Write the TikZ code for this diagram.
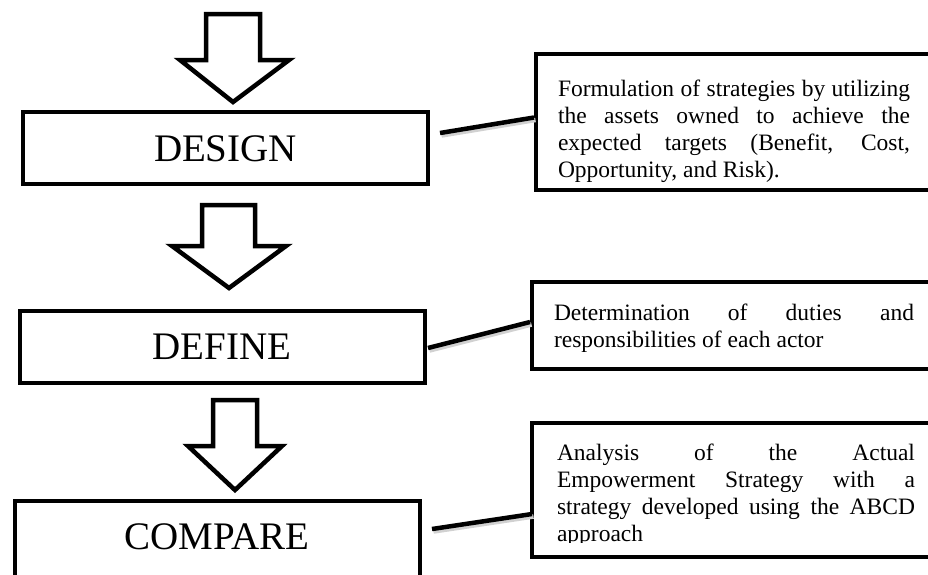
\documentclass[tikz,border=0pt]{standalone}
\usepackage{fontspec}
\setmainfont{Liberation Serif}
\usetikzlibrary{calc}
\tolerance=10000
\hyphenpenalty=10000
\begin{document}
\begin{tikzpicture}[x=1pt,y=-1pt,line join=miter,
	stage/.style={draw,line width=4pt,minimum width=405pt,minimum height=72pt,inner sep=0pt,
		text height=26pt,text depth=0pt,font=\fontsize{39}{47}\selectfont},
	note/.style={line width=4pt,anchor=north west,align=justify,inner xsep=23pt},
	bigarrow/.style={draw,fill=white,line width=4.5pt},
	link/.style={line width=4.5pt},
	linkshade/.style={line width=4.5pt,black!18,transform canvas={shift={(1.5pt,-2.5pt)}}}]
	\clip (0,0) rectangle (928,574);
	\fill[white] (0,0) rectangle (928,574);
	% stage boxes
	\node[stage] (design) at (225.5,148) {DESIGN};
	\node[stage] (define) at (222,346.5) {DEFINE};
	\node[stage,anchor=north,inner ysep=22pt,text depth=60pt] (compare) at (217,499) {COMPARE};
	% block arrows
	\foreach \xa/\xb/\ya/\yb/\ha/\hb/\tx/\ty in {206/260/14/60/180/289/233/102,
			202/255/205/246/172/286/229/288, 213/257/400/446/188/282/235/490}
		\draw[bigarrow] (\xa,\ya) -- (\xb,\ya) -- (\xb,\yb) -- (\hb,\yb) -- (\tx,\ty)
			-- (\ha,\yb) -- (\xa,\yb) -- cycle;
	% notes
	\node[note,draw,text width=352pt,inner xsep=22pt,inner ysep=26pt,text height=16pt,text depth=68pt,
		font=\fontsize{23.5}{27}\selectfont] (designnote) at (534,52)
		{Formulation of strategies by utilizing\linebreak the assets owned to achieve the\linebreak expected targets (Benefit, Cost,\linebreak Opportunity, and Risk).};
	\node[note,draw,text width=360pt,inner xsep=22pt,inner ysep=22pt,text height=16pt,text depth=27pt,
		font=\fontsize{23.5}{27}\selectfont] (definenote) at (530,280)
		{Determination of duties and\linebreak responsibilities of each actor};
	\begin{scope}
		\clip (520,423) rectangle (928,542);
		\node[note,text width=358pt,inner ysep=19pt,text height=16pt,text depth=76pt,
			font=\fontsize{23.5}{27}\selectfont] (comparenote) at (532,423)
			{Analysis of the Actual\linebreak Empowerment Strategy with a\linebreak strategy developed using the ABCD approach};
	\end{scope}
	\draw[line width=4pt] (comparenote.north west) rectangle (comparenote.south east);
	% connectors
	\coordinate (designout) at (440,133);
	\coordinate (defineout) at (428,348);
	\coordinate (compareout) at (432,529);
	\draw[linkshade] (designout) -- ($(designnote.west)+(0,-4.5)$);
	\draw[linkshade] (defineout) -- ($(definenote.west)+(0,-3.5)$);
	\draw[linkshade] (compareout) -- ($(comparenote.west)+(0,24)$);
	\draw[link] (designout) -- ($(designnote.west)+(0,-4.5)$);
	\draw[link] (defineout) -- ($(definenote.west)+(0,-3.5)$);
	\draw[link] (compareout) -- ($(comparenote.west)+(0,24)$);
\end{tikzpicture}
\end{document}
